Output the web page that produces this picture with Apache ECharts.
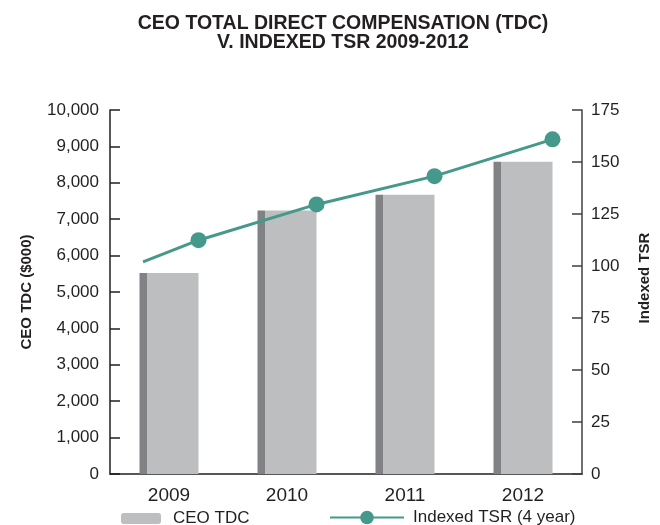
<!DOCTYPE html>
<html>
<head>
<meta charset="utf-8">
<script src="https://cdn.jsdelivr.net/npm/echarts@6/dist/echarts.min.js"></script>
<style>
  html, body { margin: 0; padding: 0; background: #fff; }
  #chart { width: 660px; height: 525px; }
</style>
</head>
<body>
<div id="chart"></div>
<script>
const years = ['2009', '2010', '2011', '2012'];
const tdcValues = [5520, 7240, 7670, 8580];
// TSR points sit at the end of each year; the first point is the start of 2009
const tsrX = [2008.53, 2009, 2010, 2011, 2012];
const tsrValues = [102, 112.4, 129.6, 143.2, 160.9];
const tdcTicks = [0, 10000, 1000];
const tsrTicks = [0, 175, 25];

const ink = '#231f20';
const teal = '#45998a';
const barLight = '#bcbec0';
const barDark = '#808285';
const font = '"Liberation Sans", Arial, sans-serif';

const chart = echarts.init(document.getElementById('chart'));

const barFill = new echarts.graphic.LinearGradient(0, 0, 1, 0, [
    { offset: 0, color: barDark },
    { offset: 0.12, color: barDark },
    { offset: 0.12, color: barLight },
    { offset: 1, color: barLight }
]);

const option = {
    animation: false,
    title: {
        text: 'CEO TOTAL DIRECT COMPENSATION (TDC)\nV. INDEXED TSR 2009-2012',
        left: 343,
        top: 14,
        padding: 0,
        textAlign: 'center',
        textStyle: {
            fontFamily: font,
            fontWeight: 'bold',
            fontSize: 19.5,
            lineHeight: 19,
            color: ink
        }
    },
    grid: { left: 110, right: 75, top: 110, bottom: 51 },
    legend: [{
        left: 121,
        top: 510,
        itemWidth: 40,
        itemHeight: 11,
        padding: 0,
        data: [{ name: 'CEO TDC', itemStyle: { color: barLight } }],
        textStyle: { fontFamily: font, fontSize: 17, color: ink, padding: [0, 0, 0, 7] }
    }, {
        left: 329,
        top: 509,
        itemWidth: 74,
        itemHeight: 17,
        padding: 0,
        data: ['Indexed TSR (4 year)'],
        textStyle: { fontFamily: font, fontSize: 17, color: ink, padding: [0, 0, 0, 4] }
    }],
    xAxis: [{
        type: 'category',
        data: years,
        axisLine: { lineStyle: { color: ink, width: 1.5 } },
        axisTick: { show: false },
        axisLabel: { fontFamily: font, fontSize: 19, color: ink, margin: 12 }
    }, {
        type: 'value',
        min: 2008.25,
        max: 2012.25,
        show: false
    }],
    yAxis: [{
        type: 'value',
        min: tdcTicks[0],
        max: tdcTicks[1],
        interval: tdcTicks[2],
        name: 'CEO TDC ($000)',
        nameLocation: 'middle',
        nameGap: 76,
        nameTextStyle: { fontFamily: font, fontWeight: 'bold', fontSize: 15, color: ink },
        axisLine: { show: true, lineStyle: { color: ink, width: 1.5 } },
        axisTick: { show: true, inside: true, length: 10, lineStyle: { color: ink, width: 1.5 } },
        splitLine: { show: false },
        axisLabel: {
            fontFamily: font, fontSize: 17, color: ink, margin: 11,
            formatter: v => v.toLocaleString('en-US')
        }
    }, {
        type: 'value',
        position: 'right',
        min: tsrTicks[0],
        max: tsrTicks[1],
        interval: tsrTicks[2],
        name: 'Indexed TSR',
        nameLocation: 'middle',
        nameGap: 55,
        nameTextStyle: { fontFamily: font, fontWeight: 'bold', fontSize: 15, color: ink, padding: [0, 0, 0, 28] },
        axisLine: { show: true, lineStyle: { color: '#414042', width: 1.5 } },
        axisTick: { show: true, inside: true, length: 10, lineStyle: { color: '#414042', width: 1.5 } },
        splitLine: { show: false },
        axisLabel: { fontFamily: font, fontSize: 17, color: ink, margin: 9 }
    }],
    series: [{
        name: 'CEO TDC',
        type: 'bar',
        data: tdcValues,
        barWidth: '50%',
        itemStyle: { color: barFill }
    }, {
        name: 'Indexed TSR (4 year)',
        type: 'line',
        xAxisIndex: 1,
        yAxisIndex: 1,
        data: tsrX.map((x, i) => i === 0
            ? { value: [x, tsrValues[i]], symbol: 'none' }
            : { value: [x, tsrValues[i]] }),
        symbol: 'circle',
        symbolSize: 16,
        lineStyle: { color: teal, width: 3 },
        itemStyle: { color: teal }
    }]
};

chart.setOption(option);
</script>
</body>
</html>
